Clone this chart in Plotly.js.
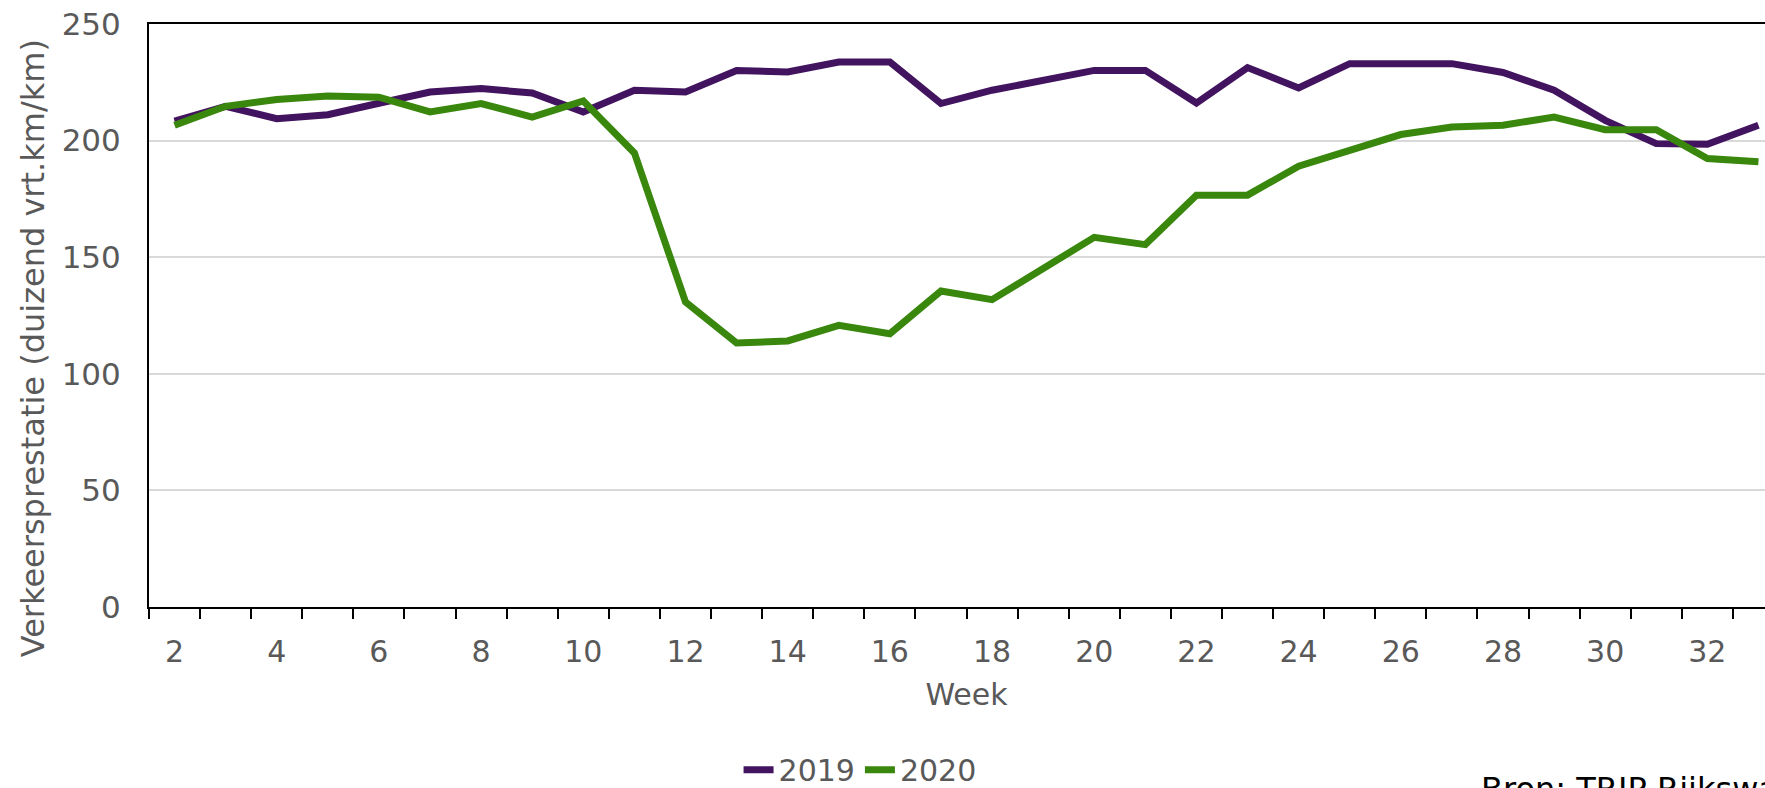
<!DOCTYPE html>
<html>
<head>
<meta charset="utf-8">
<script src="https://cdn.plot.ly/plotly-3.0.1.min.js"></script>
<style>
html, body { margin: 0; padding: 0; overflow: hidden; background: #fff; }
#chart { width: 1800px; height: 788px; }
</style>
</head>
<body>
<div id="chart"></div>
<script>
// Data
const weeks = [2,3,4,5,6,7,8,9,10,11,12,13,14,15,16,17,18,19,20,21,22,23,24,25,26,27,28,29,30,31,32,33];
const values2019 = [208.4,214.7,209.4,211.1,216.0,220.8,222.3,220.4,212.3,221.6,220.8,230.1,229.4,233.7,233.7,215.9,221.6,226.0,230.1,230.1,216.1,231.3,222.6,233.0,233.0,233.0,229.2,221.6,208.7,198.7,198.4,206.6];
const values2020 = [206.6,214.7,217.6,219.1,218.6,212.3,215.9,210.1,217.0,194.7,130.8,113.2,114.1,120.8,117.2,135.5,131.8,145.3,158.5,155.4,176.6,176.6,189.0,195.8,202.6,205.8,206.6,210.1,204.7,204.7,192.3,190.9];
const seriesNames = ["2019", "2020"];
const xTickVals = [2,4,6,8,10,12,14,16,18,20,22,24,26,28,30,32];
const xTickText = ["2","4","6","8","10","12","14","16","18","20","22","24","26","28","30","32"];
const yTickVals = [0,50,100,150,200,250];
const xTitle = "Week";
const yTitle = "Verkeersprestatie (duizend vrt.km/km)";
const sourceText = "Bron: TRIP Rijkswaterstaat";

const FONT = "DejaVu Sans, Verdana, sans-serif";
const GREY = "#595959";

const traces = [
  { x: weeks, y: values2019, name: seriesNames[0], type: "scatter", mode: "lines",
    line: { color: "#42145f", width: 7 } },
  { x: weeks, y: values2020, name: seriesNames[1], type: "scatter", mode: "lines",
    line: { color: "#39870c", width: 7 } }
];

const layout = {
  width: 1800, height: 788,
  margin: { l: 149, r: 16, t: 24, b: 181, autoexpand: false },
  paper_bgcolor: "#fff", plot_bgcolor: "#fff",
  font: { family: FONT, size: 30, color: GREY },
  showlegend: true,
  legend: {
    orientation: "h", x: 0.4349, xanchor: "center", y: -0.279, yanchor: "middle",
    font: { family: FONT, size: 30, color: GREY }, itemwidth: 30, traceorder: "normal"
  },
  xaxis: {
    range: [1.5, 33.5], tickmode: "array", tickvals: xTickVals, ticktext: xTickText,
    ticks: "", ticklabelstandoff: 17,
    showgrid: false, zeroline: false,
    showline: true, linecolor: "#000", linewidth: 2, mirror: true,
    tickfont: { family: FONT, size: 30, color: GREY },
    minor: { tick0: 1.5, dtick: 1, ticks: "outside", ticklen: 10, tickwidth: 2, tickcolor: "#000", showgrid: false },
    title: { text: xTitle, font: { family: FONT, size: 30, color: GREY }, standoff: 16 }
  },
  yaxis: {
    range: [0, 250], tickmode: "array", tickvals: yTickVals,
    ticks: "", ticklabelstandoff: 20,
    showgrid: true, gridcolor: "#d9d9d9", gridwidth: 2, zeroline: false,
    showline: true, linecolor: "#000", linewidth: 2, mirror: true,
    tickfont: { family: FONT, size: 31, color: GREY }
  },
  annotations: [
    { text: yTitle, xref: "paper", yref: "paper", x: -0.0709, y: 0.444,
      xanchor: "center", yanchor: "middle", textangle: -90, showarrow: false,
      font: { family: FONT, size: 32, color: GREY } },
    { text: sourceText, xref: "paper", yref: "paper", x: 0.8135, y: -0.348,
      xanchor: "left", yanchor: "bottom", showarrow: false,
      font: { family: FONT, size: 32, color: "#000" } }
  ]
};

Plotly.newPlot("chart", traces, layout, { displayModeBar: false, staticPlot: true });
</script>
</body>
</html>
